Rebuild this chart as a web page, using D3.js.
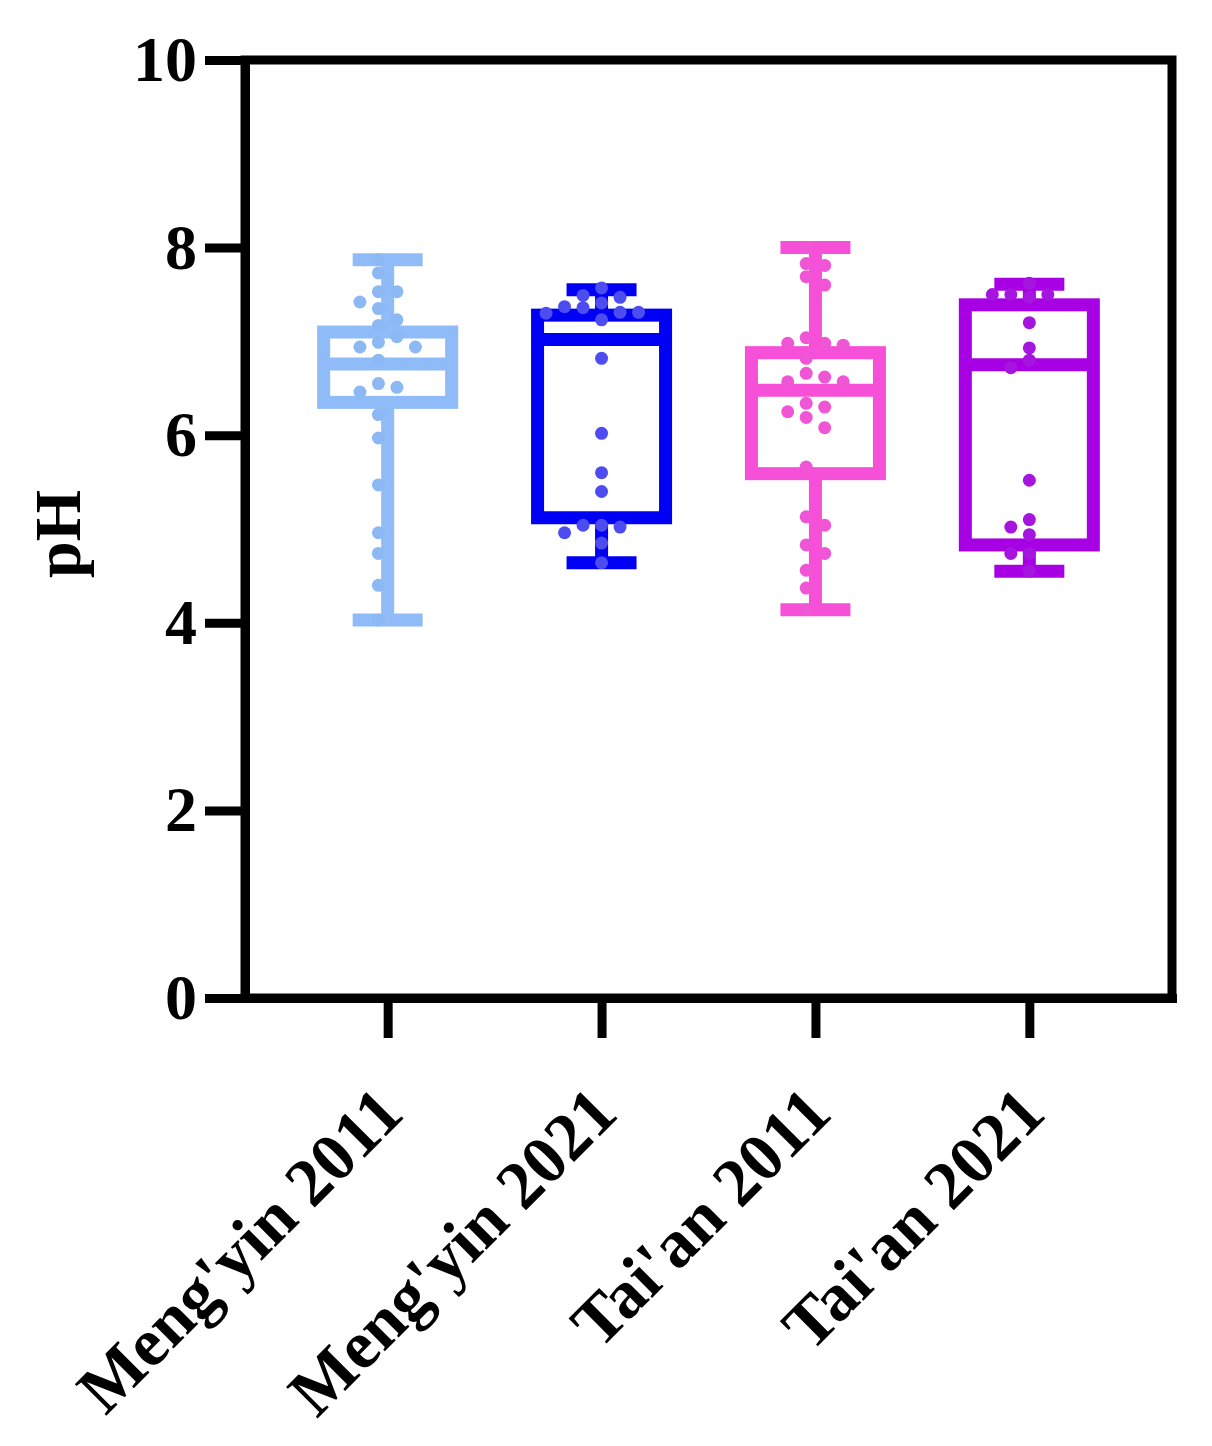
<!DOCTYPE html>
<html>
<head>
<meta charset="utf-8">
<script src="https://cdn.jsdelivr.net/npm/d3@7"></script>
<style>
  body { margin: 0; background: #fff; }
</style>
</head>
<body>
<div id="chart"></div>
<script>
// Data
const categories = ["Meng'yin 2011", "Meng'yin 2021", "Tai'an 2011", "Tai'an 2021"]
const yTicks = [0, 2, 4, 6, 8, 10]

const boxMin = [4.03, 4.64, 4.14, 4.55]
const boxQ1 = [6.35, 5.12, 5.59, 4.83]
const boxMedian = [6.76, 7.02, 6.48, 6.75]
const boxQ3 = [7.10, 7.28, 6.88, 7.39]
const boxMax = [7.87, 7.55, 8.00, 7.61]

const mengyin2011 = [7.87, 7.73, 7.53, 7.53, 7.42, 7.35, 7.23, 7.17, 7.05, 6.99, 6.94, 6.94, 6.80, 6.55, 6.51, 6.46, 6.22, 5.97, 5.47, 4.96, 4.74, 4.40, 4.03]
const mengyin2021 = [7.57, 7.49, 7.47, 7.41, 7.37, 7.36, 7.31, 7.31, 7.30, 7.23, 6.82, 6.02, 5.60, 5.40, 5.04, 5.04, 5.02, 4.96, 4.85, 4.64]
const taian2011 = [8.00, 7.83, 7.81, 7.69, 7.60, 7.04, 6.98, 6.98, 6.96, 6.82, 6.66, 6.62, 6.57, 6.57, 6.34, 6.30, 6.25, 6.19, 6.08, 5.66, 5.13, 5.04, 4.83, 4.74, 4.56, 4.37, 4.14]
const taian2021 = [7.62, 7.50, 7.50, 7.50, 7.47, 7.20, 6.93, 6.80, 6.72, 5.52, 5.10, 5.02, 4.94, 4.74, 4.74, 4.55]
const points = [mengyin2011, mengyin2021, taian2011, taian2021]

const boxColors = ["#8fbcf8", "#0000f5", "#f64fd8", "#a800e4"]
const dotColors = ["#8cb9f4", "#4c4cf0", "#f055d6", "#a614e0"]

// Constants
const width = 1212
const height = 1446
const margin = { top: 60, right: 40, bottom: 448, left: 245 }
const font = "'Liberation Serif', 'Times New Roman', serif"

const svg = d3.select("#chart")
    .append("svg")
    .attr("width", width)
    .attr("height", height)

const x = d3.scalePoint()
    .domain(categories)
    .range([margin.left, width - margin.right])
    .padding(0.667)

const y = d3.scaleLinear()
    .domain([0, 10])
    .range([height - margin.bottom, margin.top])

// Frame (top + right)
svg.append("rect")
    .attr("x", margin.left)
    .attr("y", margin.top)
    .attr("width", width - margin.right - margin.left)
    .attr("height", y(0) - margin.top)
    .attr("fill", "none")
    .attr("stroke", "#000")
    .attr("stroke-width", 9)

// Boxes
const boxW = 128
const capW = 70
const sw = 13
const boxes = svg.append("g").attr("id", "boxes")

categories.forEach((c, i) => {
    const cx = x(c)
    const g = boxes.append("g")
    const col = boxColors[i]
    // whiskers
    g.append("line")
        .attr("x1", cx).attr("x2", cx)
        .attr("y1", y(boxMax[i])).attr("y2", y(boxQ3[i]))
        .attr("stroke", col).attr("stroke-width", sw)
    g.append("line")
        .attr("x1", cx).attr("x2", cx)
        .attr("y1", y(boxQ1[i])).attr("y2", y(boxMin[i]))
        .attr("stroke", col).attr("stroke-width", sw)
    // caps
    ;[boxMax[i], boxMin[i]].forEach(v => {
        g.append("line")
            .attr("x1", cx - capW / 2).attr("x2", cx + capW / 2)
            .attr("y1", y(v)).attr("y2", y(v))
            .attr("stroke", col).attr("stroke-width", sw)
    })
    // box
    g.append("rect")
        .attr("x", cx - boxW / 2)
        .attr("y", y(boxQ3[i]))
        .attr("width", boxW)
        .attr("height", y(boxQ1[i]) - y(boxQ3[i]))
        .attr("fill", "none")
        .attr("stroke", col).attr("stroke-width", sw)
    // median
    g.append("line")
        .attr("x1", cx - boxW / 2).attr("x2", cx + boxW / 2)
        .attr("y1", y(boxMedian[i])).attr("y2", y(boxMedian[i]))
        .attr("stroke", col).attr("stroke-width", sw)
})

// Simple beeswarm: place each point in the nearest free column
// (larger groups use a half-step grid, like the original plot)
const r = 6.5
const step = 18.5
const swarm = vals => {
    const placed = []
    const order = vals.length > 20
        ? [-0.5, 0.5, -1.5, 1.5, -2.5, 2.5, -3.5, 3.5]
        : [0, -1, 1, -2, 2, -3, 3, -4, 4]
    vals.slice().sort((a, b) => b - a).forEach(v => {
        const py = y(v)
        for (const k of order) {
            const clash = placed.some(p => p.k === k && Math.abs(p.py - py) < 2 * r - 1)
            if (!clash) { placed.push({ v, k, py }); break }
        }
    })
    return placed
}

categories.forEach((c, i) => {
    boxes.append("g")
        .selectAll("circle")
        .data(swarm(points[i]))
        .join("circle")
        .attr("cx", d => x(c) + d.k * step)
        .attr("cy", d => y(d.v))
        .attr("r", r)
        .attr("fill", dotColors[i])
})

// Axes
const yAxis = d3.axisLeft(y)
    .tickValues(yTicks)
    .tickSize(40)
    .tickSizeOuter(0)
    .tickPadding(8)

const yAxisGroup = svg.append("g")
    .attr("transform", `translate(${margin.left}, 0)`)
    .call(yAxis)
yAxisGroup.select(".domain").attr("stroke-width", 9).attr("stroke-linecap", "square")
yAxisGroup.selectAll("line").attr("stroke-width", 9)
yAxisGroup.selectAll("text")
    .style("font-family", font)
    .style("font-weight", "bold")
    .style("font-size", "64px")
    .attr("fill", "#000")

const xAxis = d3.axisBottom(x)
    .tickSize(40)
    .tickSizeOuter(0)

const xAxisGroup = svg.append("g")
    .attr("transform", `translate(0, ${y(0)})`)
    .call(xAxis)
xAxisGroup.select(".domain").attr("stroke-width", 9).attr("stroke-linecap", "square")
xAxisGroup.selectAll("line").attr("stroke-width", 9)
xAxisGroup.selectAll("text")
    .attr("x", 0).attr("y", 0).attr("dy", 0)
    .attr("transform", "translate(18, 118) rotate(-45)")
    .style("text-anchor", "end")
    .style("font-family", font)
    .style("font-weight", "bold")
    .style("font-size", "68px")
    .attr("fill", "#000")

// Y axis label
svg.append("text")
    .attr("transform", "translate(80, 534) rotate(-90)")
    .style("text-anchor", "middle")
    .style("font-family", font)
    .style("font-weight", "bold")
    .style("font-size", "66px")
    .text("pH")
</script>
</body>
</html>
